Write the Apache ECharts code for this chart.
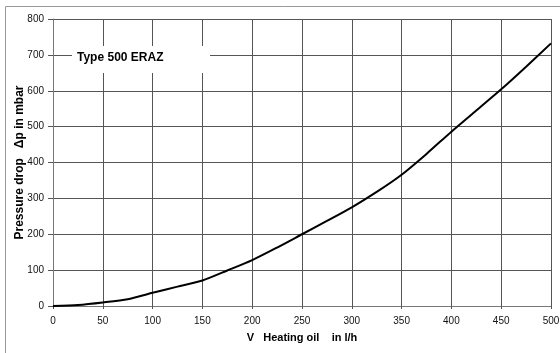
<!DOCTYPE html>
<html><head><meta charset="utf-8">
<script src="https://cdn.jsdelivr.net/npm/echarts@6/dist/echarts.min.js"></script>
<style>html,body{margin:0;padding:0;background:#fff}#c{width:560px;height:353px}</style>
</head><body><div id="c"></div>
<script>
var flowRate = [0,25,50,75,100,125,150,175,200,225,250,275,300,325,350,375,400,425,450,475,500];
var pressureDrop = [0,3,10,19,37,54,71,99,128,163,200,237,275,318,366,424,486,545,604,667,732];
var xTicks = {min:0, max:500, interval:50};
var yTicks = {min:0, max:800, interval:100};
var chartLabel = 'Type 500 ERAZ';
var xTitle = 'V   Heating oil    in l/h';
var yTitle = 'Pressure drop   \u0394p in mbar';

var chart = echarts.init(document.getElementById('c'), null, {renderer:'canvas'});
var pts = flowRate.map(function(x,i){return [x, pressureDrop[i]];});
chart.setOption({
  animation:false,
  backgroundColor:'#fff',
  grid:{left:53, right:9, top:19, bottom:47, containLabel:false, outerBoundsMode:'none'},
  xAxis:{type:'value', min:xTicks.min, max:xTicks.max, interval:xTicks.interval,
    name:xTitle, nameLocation:'middle', nameGap:26, nameMoveOverlap:false,
    nameTextStyle:{fontFamily:'Liberation Sans', fontWeight:'bold', fontSize:11, color:'#000'},
    axisLine:{show:true, lineStyle:{color:'#777', width:1}},
    axisTick:{show:true, length:3, lineStyle:{color:'#555'}},
    axisLabel:{fontFamily:'Liberation Sans', fontSize:10, color:'#111', margin:10},
    splitLine:{show:true, lineStyle:{color:'#555', width:1}}},
  yAxis:{type:'value', min:yTicks.min, max:yTicks.max, interval:yTicks.interval,
    name:yTitle, nameLocation:'middle', nameGap:27, nameRotate:90, nameMoveOverlap:false,
    nameTextStyle:{fontFamily:'Liberation Sans', fontWeight:'bold', fontSize:12, color:'#000'},
    axisLine:{show:true, lineStyle:{color:'#777', width:1}},
    axisTick:{show:true, length:5, lineStyle:{color:'#555'}},
    axisLabel:{fontFamily:'Liberation Sans', fontSize:10, color:'#111', margin:9},
    splitLine:{show:true, lineStyle:{color:'#555', width:1}}},
  series:[{type:'line', data:pts, smooth:0.25, showSymbol:false, symbol:'none',
    lineStyle:{color:'#000', width:2}, z:5}],
  graphic:[
    {type:'rect', left:3, top:4, shape:{x:0,y:0,width:600,height:400}, style:{fill:null, stroke:'#999', lineWidth:1}, silent:true, z:-1},
    {type:'rect', left:72, top:46, shape:{x:0,y:0,width:138,height:27}, style:{fill:'#fff'}, z:10},
    {type:'text', left:77, top:52, style:{text:chartLabel, font:'bold 12px "Liberation Sans"', fill:'#000'}, z:11}
  ]
});
</script></body></html>
